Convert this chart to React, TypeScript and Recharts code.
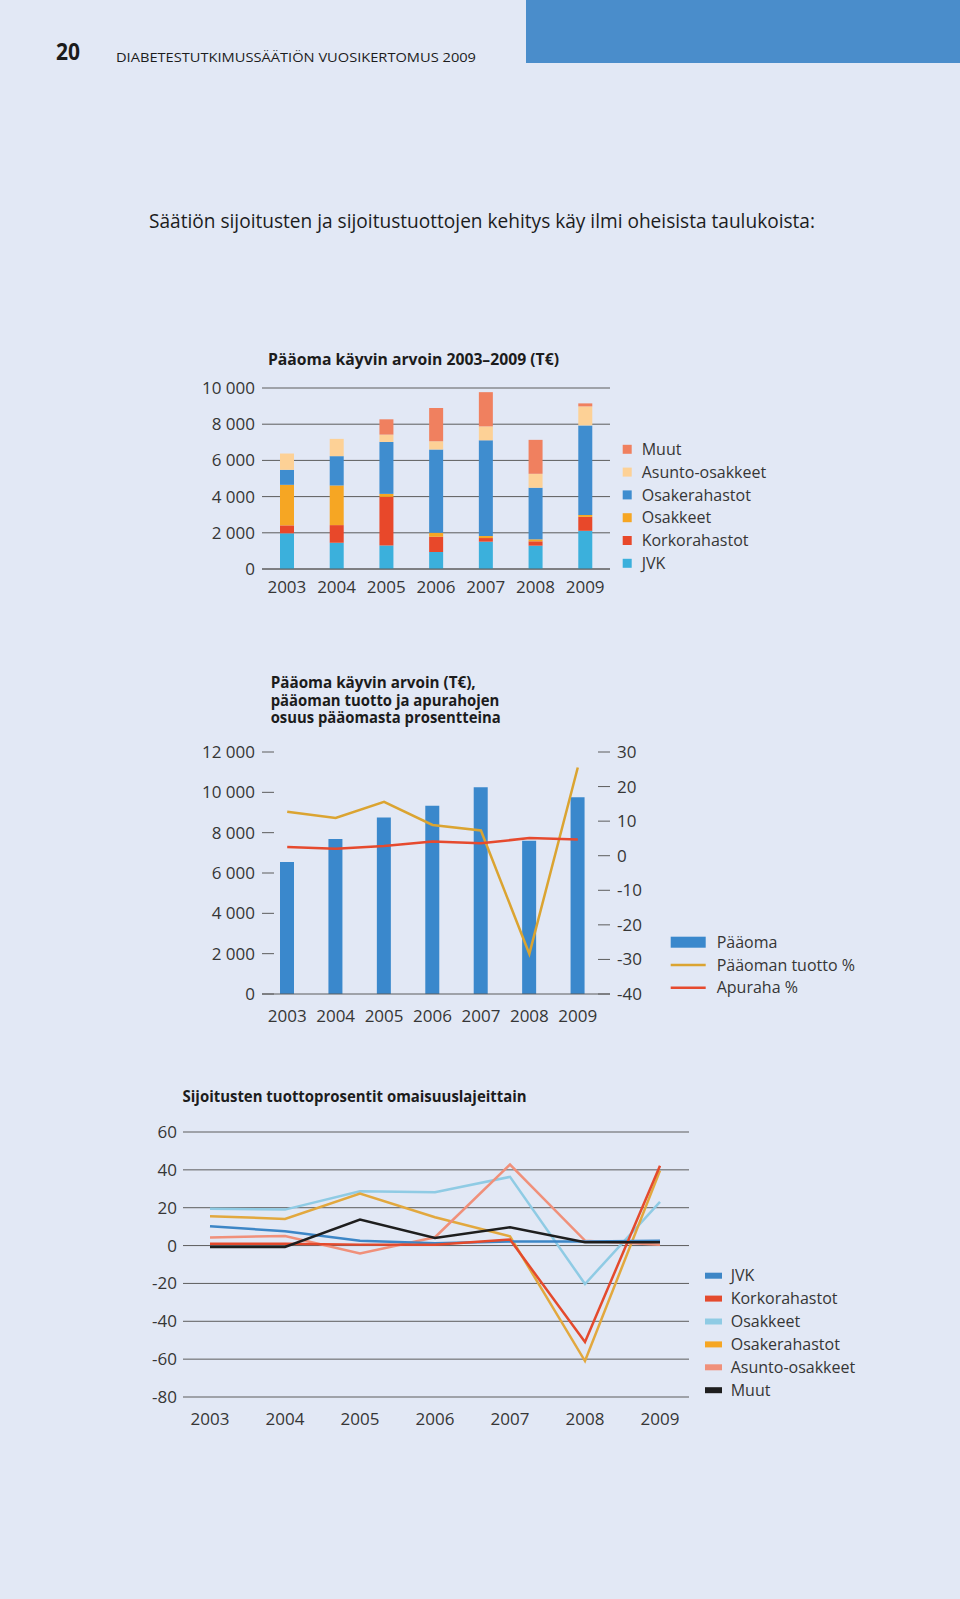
import React from 'react';
import { BarChart, Bar, ComposedChart, LineChart, Line, XAxis, YAxis, CartesianGrid } from 'recharts';

const BG = '#e2e8f5';
const INK = '#363636';
const DARK = '#1c1c1c';
const GRID = '#5c5c5c';
const FONT = '"Open Sans", "Noto Sans", sans-serif';

const years = ['2003', '2004', '2005', '2006', '2007', '2008', '2009'];

// Pääoma käyvin arvoin 2003–2009 (T€), stacked
const jvk = [1970, 1450, 1300, 940, 1510, 1290, 2110];
const korkorahastot = [440, 975, 2685, 845, 200, 240, 770];
const osakkeet = [2240, 2190, 165, 220, 110, 110, 110];
const osakerahastot = [830, 1620, 2870, 4595, 5290, 2850, 4945];
const asuntoOsakkeet = [900, 955, 405, 460, 770, 770, 1050];
const muut = [0, 0, 845, 1840, 1890, 1875, 165];
const capTicks = [0, 2000, 4000, 6000, 8000, 10000];

// Pääoma + tuotto % + apuraha %
const paaoma = [6540, 7680, 8750, 9330, 10250, 7600, 9760];
const tuotto = [12.7, 10.9, 15.6, 8.9, 7.3, -28.4, 25.5];
const apuraha = [2.5, 2.0, 2.8, 4.1, 3.6, 5.1, 4.7];
const leftTicks = [0, 2000, 4000, 6000, 8000, 10000, 12000];
const rightTicks = [-40, -30, -20, -10, 0, 10, 20, 30];

// Sijoitusten tuottoprosentit omaisuuslajeittain
const jvkPct = [10.2, 7.6, 2.6, 1.2, 2.1, 2.1, 2.5];
const korkoPct = [0.9, 0.9, 0.5, 0.5, 3.2, -51, 42.2];
const osakkeetPct = [19.4, 19.0, 28.7, 28.2, 36.3, -20.3, 23.1];
const osakerahPct = [15.5, 14.1, 27.5, 15.0, 4.9, -61, 39.6];
const asuntoPct = [4.2, 5.1, -4.2, 4.4, 42.8, 2.6, 0.4];
const muutPct = [-0.7, -0.7, 13.7, 4.0, 9.7, 1.8, 1.8];
const pctTicks = [-80, -60, -40, -20, 0, 20, 40, 60];

const stackSeries = [
  { key: 'jvk', name: 'JVK', color: '#3bb0dc', values: jvk },
  { key: 'korko', name: 'Korkorahastot', color: '#e8482a', values: korkorahastot },
  { key: 'osakkeet', name: 'Osakkeet', color: '#f6a623', values: osakkeet },
  { key: 'osakerah', name: 'Osakerahastot', color: '#3f8dcf', values: osakerahastot },
  { key: 'asunto', name: 'Asunto-osakkeet', color: '#fdd196', values: asuntoOsakkeet },
  { key: 'muut', name: 'Muut', color: '#f0805f', values: muut },
];

const pctSeries = [
  { key: 'osakkeet', name: 'Osakkeet', color: '#8fcbe4', legend: '#8fcbe4', values: osakkeetPct },
  { key: 'osakerah', name: 'Osakerahastot', color: '#e2a83e', legend: '#f6a623', values: osakerahPct },
  { key: 'asunto', name: 'Asunto-osakkeet', color: '#f0907a', legend: '#f0907a', values: asuntoPct },
  { key: 'jvk', name: 'JVK', color: '#3d86c6', legend: '#3d86c6', values: jvkPct },
  { key: 'korko', name: 'Korkorahastot', color: '#e44a2d', legend: '#e44a2d', values: korkoPct },
  { key: 'muut', name: 'Muut', color: '#1e1e1e', legend: '#1e1e1e', values: muutPct },
];
const pctLegendOrder = ['jvk', 'korko', 'osakkeet', 'osakerah', 'asunto', 'muut'];

const data1 = years.map((year, i) => {
  const row: Record<string, any> = { year };
  stackSeries.forEach(s => { row[s.key] = s.values[i]; });
  return row;
});
const data2 = years.map((year, i) => ({ year, paaoma: paaoma[i], tuotto: tuotto[i], apuraha: apuraha[i] }));
const data3 = years.map((year, i) => {
  const row: Record<string, any> = { year };
  pctSeries.forEach(s => { row[s.key] = s.values[i]; });
  return row;
});

const fmt = (v: number) => String(v).replace(/\B(?=(\d{3})+(?!\d))/g, ' ');
const tickStyle = { fontSize: 17, fill: INK, fontFamily: FONT };

function LeftTick(props: any) {
  const { x, y, payload } = props;
  return (
    <g>
      <line x1={x + 7} x2={x + 19} y1={y} y2={y} stroke={GRID} strokeWidth={1} />
      <text x={x} y={y} dy="0.355em" textAnchor="end" fontSize={17} fill={INK} fontFamily={FONT}>{fmt(payload.value)}</text>
    </g>
  );
}

function RightTick(props: any) {
  const { x, y, payload } = props;
  return (
    <g>
      <line x1={x - 19} x2={x - 7} y1={y} y2={y} stroke={GRID} strokeWidth={1} />
      <text x={x} y={y} dy="0.355em" textAnchor="start" fontSize={17} fill={INK} fontFamily={FONT}>{payload.value}</text>
    </g>
  );
}

function Overlay() {
  const legend1 = [...stackSeries].reverse();
  const legend3 = pctLegendOrder.map(k => pctSeries.find(s => s.key === k)!);
  return (
    <svg width={960} height={1599} style={{ position: 'absolute', left: 0, top: 0 }} fontFamily={FONT}>
      <rect x={526} y={0} width={434} height={63} fill="#4a8dcb" />
      <text x={56} y={59.5} fontSize={23} fontWeight={700} fill={DARK} textLength={24} lengthAdjust="spacingAndGlyphs">20</text>
      <text x={116} y={61.5} fontSize={12.5} fill={DARK} textLength={360} lengthAdjust="spacingAndGlyphs">DIABETESTUTKIMUSSÄÄTIÖN VUOSIKERTOMUS 2009</text>
      <text x={149} y={227.5} fontSize={19.5} fill={DARK} textLength={666} lengthAdjust="spacingAndGlyphs">
        Säätiön sijoitusten ja sijoitustuottojen kehitys käy ilmi oheisista taulukoista:
      </text>

      {/* chart 1 title + legend */}
      <text x={268} y={365} fontSize={16} fontWeight={700} fill={DARK} textLength={291} lengthAdjust="spacingAndGlyphs">Pääoma käyvin arvoin 2003–2009 (T€)</text>
      {legend1.map((s, i) => {
        const cy = 449.3 + 22.8 * i;
        return (
          <g key={s.key}>
            <rect x={622.7} y={cy - 4.5} width={9} height={9} fill={s.color} />
            <text x={641.7} y={cy + 5.7} fontSize={16} fill={INK}>{s.name}</text>
          </g>
        );
      })}

      {/* chart 2 title + legend */}
      <text x={270.7} y={688.3} fontSize={16} fontWeight={700} fill={DARK} textLength={205} lengthAdjust="spacingAndGlyphs">Pääoma käyvin arvoin (T€),</text>
      <text x={270.7} y={705.7} fontSize={16} fontWeight={700} fill={DARK} textLength={228.6} lengthAdjust="spacingAndGlyphs">pääoman tuotto ja apurahojen</text>
      <text x={270.7} y={723.3} fontSize={16} fontWeight={700} fill={DARK} textLength={230} lengthAdjust="spacingAndGlyphs">osuus pääomasta prosentteina</text>
      <rect x={670.7} y={936.7} width={35} height={11} fill="#3a88cc" />
      <text x={716.7} y={948} fontSize={16} fill={INK}>Pääoma</text>
      <line x1={670.7} x2={705.7} y1={965} y2={965} stroke="#dba431" strokeWidth={2.5} />
      <text x={716.7} y={970.7} fontSize={16} fill={INK}>Pääoman tuotto %</text>
      <line x1={670.7} x2={705.7} y1={987.7} y2={987.7} stroke="#e64a2e" strokeWidth={2.5} />
      <text x={716.7} y={993.4} fontSize={16} fill={INK}>Apuraha %</text>

      {/* chart 3 title + legend */}
      <text x={182.6} y={1102} fontSize={16} fontWeight={700} fill={DARK} textLength={344} lengthAdjust="spacingAndGlyphs">Sijoitusten tuottoprosentit omaisuuslajeittain</text>
      {legend3.map((s, i) => {
        const cy = 1275.7 + 22.9 * i;
        return (
          <g key={s.key}>
            <rect x={705} y={cy - 3} width={17} height={6} fill={s.legend} />
            <text x={730.7} y={cy + 5.7} fontSize={16} fill={INK}>{s.name}</text>
          </g>
        );
      })}
    </svg>
  );
}

export default function App() {
  return (
    <div style={{ position: 'absolute', left: 0, top: 0, width: 960, height: 1599, background: BG, fontFamily: FONT, overflow: 'hidden' }}>
      <Overlay />

      <div style={{ position: 'absolute', left: 180, top: 370 }}>
        <BarChart width={440} height={230} data={data1} margin={{ top: 18, right: 10, bottom: 0, left: 0 }}>
          <CartesianGrid vertical={false} stroke={GRID} strokeWidth={1} />
          <XAxis dataKey="year" height={31} interval={0} axisLine={{ stroke: GRID }} tickLine={false} tickSize={0} tickMargin={12} tick={tickStyle} />
          <YAxis width={82} domain={[0, 10000]} ticks={capTicks} tickFormatter={fmt} axisLine={false} tickLine={false} tickSize={0} tickMargin={7} tick={tickStyle} />
          {stackSeries.map(s => (
            <Bar key={s.key} dataKey={s.key} stackId="a" fill={s.color} barSize={14} isAnimationActive={false} />
          ))}
        </BarChart>
      </div>

      <div style={{ position: 'absolute', left: 180, top: 740 }}>
        <ComposedChart width={470} height={300} data={data2} margin={{ top: 12, right: 0, bottom: 0, left: 0 }}>
          <XAxis dataKey="year" height={46} interval={0} padding={{ left: 1, right: 8 }} axisLine={{ stroke: GRID }} tickLine={false} tickSize={0} tickMargin={16} tick={tickStyle} />
          <YAxis yAxisId="l" width={82} domain={[0, 12000]} ticks={leftTicks} axisLine={false} tickLine={false} tickSize={0} tickMargin={7} tick={<LeftTick />} />
          <YAxis yAxisId="r" orientation="right" width={40} domain={[-40, 30]} ticks={rightTicks} axisLine={false} tickLine={false} tickSize={0} tickMargin={7} tick={<RightTick />} />
          <Bar yAxisId="l" dataKey="paaoma" fill="#3a88cc" barSize={14} isAnimationActive={false} />
          <Line yAxisId="r" type="linear" dataKey="tuotto" stroke="#dba431" strokeWidth={2.5} dot={false} isAnimationActive={false} />
          <Line yAxisId="r" type="linear" dataKey="apuraha" stroke="#e64a2e" strokeWidth={2.5} dot={false} isAnimationActive={false} />
        </ComposedChart>
      </div>

      <div style={{ position: 'absolute', left: 110, top: 1115 }}>
        <LineChart width={600} height={320} data={data3} margin={{ top: 17, right: 21, bottom: 0, left: 0 }}>
          <CartesianGrid vertical={false} stroke={GRID} strokeWidth={1} />
          <XAxis dataKey="year" height={38} interval={0} padding={{ left: 27, right: 29 }} axisLine={false} tickLine={false} tickSize={0} tickMargin={16} tick={tickStyle} />
          <YAxis width={73} domain={[-80, 60]} ticks={pctTicks} axisLine={false} tickLine={false} tickSize={0} tickMargin={6} tick={tickStyle} />
          {pctSeries.map(s => (
            <Line key={s.key} type="linear" dataKey={s.key} stroke={s.color} strokeWidth={2.5} dot={false} isAnimationActive={false} />
          ))}
        </LineChart>
      </div>
    </div>
  );
}
